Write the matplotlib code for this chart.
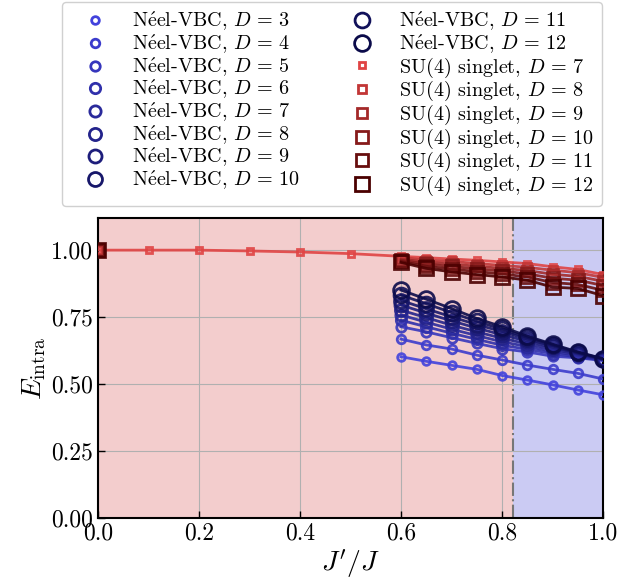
import numpy as np
import matplotlib
matplotlib.use('Agg')
from matplotlib import pyplot as plt
from matplotlib.colors import LinearSegmentedColormap
from matplotlib.lines import Line2D

plt.rcParams['font.family'] = ['cmr10', 'DejaVu Serif']
plt.rcParams['mathtext.fontset'] = 'cm'
plt.rcParams['axes.unicode_minus'] = False
plt.rcParams['axes.formatter.use_mathtext'] = True

# Neel-VBC data, J'/J = 0.6 ... 1.0
x_neel = [0.6, 0.65, 0.7, 0.75, 0.8, 0.85, 0.9, 0.95, 1.0]
D_neel = [3, 4, 5, 6, 7, 8, 9, 10, 11, 12]
neel_D3 = [0.602, 0.585, 0.570, 0.555, 0.532, 0.515, 0.497, 0.478, 0.460]
neel_D4 = [0.668, 0.646, 0.631, 0.608, 0.590, 0.571, 0.555, 0.540, 0.519]
neel_D5 = [0.714, 0.695, 0.673, 0.652, 0.632, 0.620, 0.604, 0.598, 0.588]
neel_D6 = [0.738, 0.714, 0.690, 0.667, 0.645, 0.630, 0.614, 0.601, 0.590]
neel_D7 = [0.758, 0.731, 0.705, 0.681, 0.658, 0.640, 0.622, 0.606, 0.591]
neel_D8 = [0.776, 0.748, 0.720, 0.695, 0.671, 0.650, 0.630, 0.611, 0.592]
neel_D9 = [0.795, 0.765, 0.736, 0.709, 0.684, 0.660, 0.637, 0.614, 0.593]
neel_D10 = [0.812, 0.781, 0.751, 0.722, 0.696, 0.668, 0.642, 0.616, 0.593]
neel_D11 = [0.832, 0.800, 0.767, 0.734, 0.705, 0.674, 0.646, 0.618, 0.594]
neel_D12 = [0.851, 0.817, 0.782, 0.745, 0.714, 0.679, 0.649, 0.620, 0.595]
neel_vals = [neel_D3, neel_D4, neel_D5, neel_D6, neel_D7, neel_D8,
             neel_D9, neel_D10, neel_D11, neel_D12]

# SU(4) singlet data
x_su_long = [0.0, 0.1, 0.2, 0.3, 0.4, 0.5, 0.6, 0.65, 0.7, 0.75, 0.8, 0.85, 0.9, 0.95, 1.0]
x_su = [0.0, 0.6, 0.65, 0.7, 0.75, 0.8, 0.85, 0.9, 0.95, 1.0]
D_su = [7, 8, 9, 10, 11, 12]
su_D7 = [1.000, 1.000, 1.000, 0.997, 0.993, 0.987, 0.977, 0.972, 0.967, 0.962, 0.956, 0.950, 0.938, 0.928, 0.909]
su_D8 = [1.0, 0.972, 0.963, 0.958, 0.950, 0.943, 0.936, 0.925, 0.916, 0.898]
su_D9 = [1.0, 0.967, 0.955, 0.948, 0.940, 0.932, 0.924, 0.910, 0.902, 0.884]
su_D10 = [1.0, 0.963, 0.948, 0.939, 0.930, 0.922, 0.912, 0.895, 0.888, 0.868]
su_D11 = [1.0, 0.958, 0.940, 0.929, 0.920, 0.911, 0.900, 0.879, 0.872, 0.850]
su_D12 = [1.0, 0.954, 0.932, 0.919, 0.909, 0.900, 0.888, 0.862, 0.857, 0.830]
su_vals = [su_D8, su_D9, su_D10, su_D11, su_D12]

J_c = 0.822

fig = plt.figure(figsize=(6.4, 5.84), dpi=100)
ax = fig.add_axes([98/640, 1-518/584, 505/640, 300/584])

ax.axvspan(0, J_c, color='#f3cdcd', zorder=0, lw=0)
ax.axvspan(J_c, 1.0, color='#cbcbf3', zorder=0, lw=0)
ax.axvline(J_c, color='#777777', ls='-.', lw=1.5, zorder=1)

blues = LinearSegmentedColormap.from_list('b', ['#4242dc', '#0b0b4a'])
reds = LinearSegmentedColormap.from_list('r', ['#e04444', '#4a0000'])

handles = []
for i, (D, y) in enumerate(zip(D_neel, neel_vals)):
    c = blues(i / (len(D_neel) - 1))
    ms = 5.5 + 0.65 * i
    ax.plot(x_neel, y, '-o', color=c, mfc='none', mec=c, ms=ms,
            mew=2.0, lw=2.0, alpha=0.9, zorder=3 + i)
    handles.append(Line2D([], [], ls='none', marker='o', mfc='none', mec=c,
                          ms=ms, mew=2.0,
                          label=r'N$\mathrm{\acute{e}}$el-VBC, $D\,=\,%d$' % D))

for i, D in enumerate(D_su):
    c = reds(i / (len(D_su) - 1))
    ms = 5.0 + 1.0 * i
    if i == 0:
        ax.plot(x_su_long, su_D7, '-s', color=c, mfc='none', mec=c, ms=ms,
                mew=2.0, lw=2.0, alpha=0.9, zorder=3 + i)
    else:
        y = su_vals[i - 1]
        ax.plot(x_su[1:], y[1:], '-s', color=c, mfc='none', mec=c, ms=ms,
                mew=2.0, lw=2.0, alpha=0.9, zorder=3 + i)
        ax.plot(x_su[:1], y[:1], 's', color=c, mfc='none', mec=c, ms=ms,
                mew=2.0, alpha=0.9, zorder=3 + i)
    handles.append(Line2D([], [], ls='none', marker='s', mfc='none', mec=c,
                          ms=ms, mew=2.0,
                          label=r'SU$(4)$ singlet, $D\,=\,%d$' % D))

ax.set_xlim(0, 1.0)
ax.set_ylim(0, 1.12)
ax.set_xticks([0, 0.2, 0.4, 0.6, 0.8, 1.0])
ax.set_xticklabels(['%.1f' % v for v in [0, 0.2, 0.4, 0.6, 0.8, 1.0]])
ax.set_yticks([0, 0.25, 0.5, 0.75, 1.0])
ax.set_yticklabels(['%.2f' % v for v in [0, 0.25, 0.5, 0.75, 1.0]])
ax.tick_params(direction='in', labelsize=17, length=5, width=1)
ax.grid(True, color='#b0b0b0', lw=0.8, zorder=0.5)
for s in ax.spines.values():
    s.set_linewidth(1.5)

ax.set_xlabel(r"$J'/J$", fontsize=20, labelpad=2)
ax.set_ylabel(r'$E_{\rm intra}$', fontsize=20, labelpad=2)

leg = fig.legend(handles=handles, ncol=2, loc='upper left',
                 bbox_to_anchor=(62/640, 1-2/584, 540/640, 0.0),
                 mode='expand', borderaxespad=0.0, fontsize=14.5,
                 labelspacing=-0.02, handlelength=2.5, handletextpad=0.6,
                 borderpad=0.4, columnspacing=1.0, fancybox=True,
                 framealpha=1.0, edgecolor='#d0d0d0')

fig.savefig('out.png', dpi=100)
